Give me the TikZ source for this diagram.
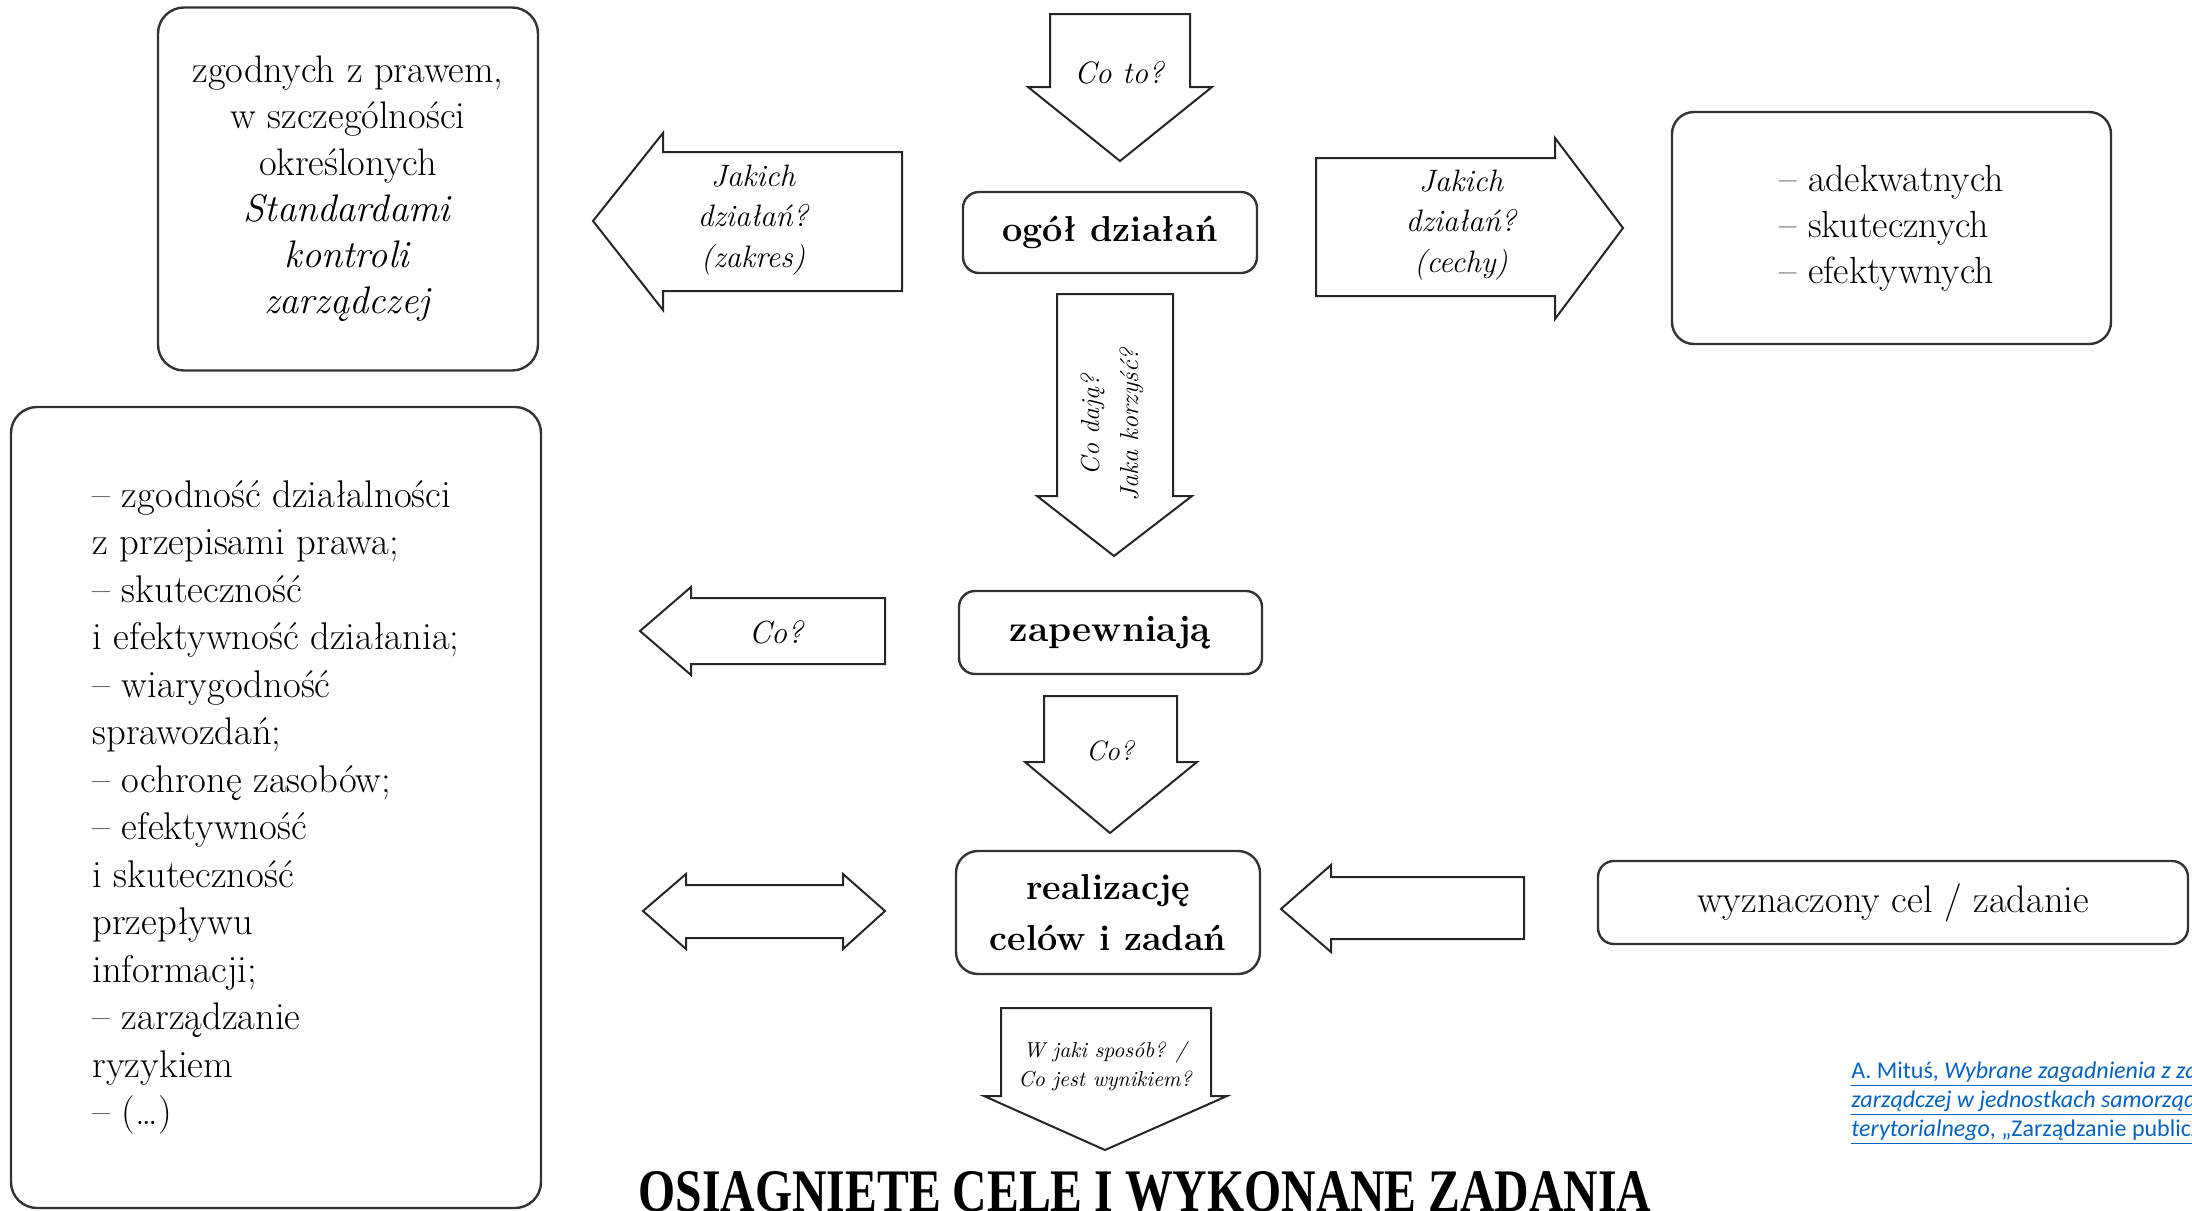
\documentclass[tikz,border=0pt]{standalone}
\usepackage{fontspec}
\newfontfamily\citefont{Carlito}
\newfontfamily\titlefont{Liberation Serif}
\definecolor{linkblue}{HTML}{0563C1}
\tikzset{
    box/.style={draw=black!80, line width=1.2pt, rounded corners=8pt, align=center}, % rounded frames
    barrow/.style={draw=black!85, line width=1pt, fill=white}, % block arrows
    ask/.style={font=\itshape\fontsize{15.5pt}{20.25pt}\selectfont, align=center, inner sep=0pt}, % questions in the arrows
}

\begin{document}
\begin{tikzpicture}[x=0.5pt, y=-0.5pt]
\useasboundingbox (0,0) rectangle (2192,1211);

% frames
\node[box, rounded corners=13pt, minimum width=190pt, minimum height=181.5pt,
      font=\fontsize{19.2pt}{23.1pt}\selectfont] (rules) at (348,189)
     {zgodnych z prawem,\\ w szczególności\\ określonych\\
      \textit{Standardami}\\ \textit{kontroli}\\ \textit{zarządczej}};
\node[box, rounded corners=11pt, minimum width=219.5pt, minimum height=116pt, align=left,
      font=\fontsize{18.9pt}{23pt}\selectfont] (traits) at (1891.5,228)
     {– adekwatnych\\ – skutecznych\\ – efektywnych};
\node[box, minimum width=147pt, minimum height=40.5pt,
      font=\bfseries\fontsize{18pt}{22pt}\selectfont] (all) at (1110,232.5) {ogół działań};
\node[box, minimum width=151.5pt, minimum height=41.5pt,
      font=\bfseries\fontsize{18.5pt}{22pt}\selectfont] (ensure) at (1110.5,632.5) {zapewniają};
\node[box, rounded corners=11pt, minimum width=152pt, minimum height=61.5pt,
      font=\bfseries\fontsize{18pt}{25.5pt}\selectfont] (tasks) at (1108,912.5) {realizację\\ celów i zadań};
\node[box, minimum width=295pt, minimum height=41.5pt,
      font=\fontsize{19.2pt}{22pt}\selectfont] (goal) at (1893,902.5) {wyznaczony cel / zadanie};
\node[box, rounded corners=13pt, minimum width=265pt, minimum height=400.5pt, align=left,
      font=\fontsize{19.3pt}{23.75pt}\selectfont] (effects) at (276,807.5)
     {– zgodność działalności\\ z przepisami prawa;\\ – skuteczność\\
      i efektywność działania;\\ – wiarygodność\\ sprawozdań;\\ – ochronę zasobów;\\
      – efektywność\\ i skuteczność\\ przepływu\\ informacji;\\ – zarządzanie\\
      ryzykiem\\ – (…)};

% block arrows
\draw[barrow] (1050,14) -- (1190,14) -- (1190,87) -- (1212,87) -- (1120,161)
    -- (1028,87) -- (1050,87) -- cycle;
\draw[barrow] (902,152) -- (902,291) -- (663,291) -- (663,310) -- (593,221)
    -- (663,133) -- (663,152) -- cycle;
\draw[barrow] (1316,158) -- (1555,158) -- (1555,138) -- (1623,228) -- (1555,319)
    -- (1555,296) -- (1316,296) -- cycle;
\draw[barrow] (1057,294) -- (1173,294) -- (1173,496) -- (1192,496) -- (1114,556)
    -- (1037,496) -- (1057,496) -- cycle;
\draw[barrow] (885,598) -- (885,664) -- (691,664) -- (691,675) -- (640,631)
    -- (691,587) -- (691,598) -- cycle;
\draw[barrow] (1044,696) -- (1177,696) -- (1177,762) -- (1197,762) -- (1110,833)
    -- (1025,762) -- (1044,762) -- cycle;
\draw[barrow] (643,911) -- (686,874) -- (686,885) -- (843,885) -- (843,874) -- (885,911)
    -- (843,949) -- (843,938) -- (686,938) -- (686,949) -- cycle;
\draw[barrow] (1524,877) -- (1524,939) -- (1331,939) -- (1331,952) -- (1281,909)
    -- (1331,865) -- (1331,877) -- cycle;
\draw[barrow] (1001,1008) -- (1211,1008) -- (1211,1096) -- (1227,1096) -- (1105,1150)
    -- (984,1096) -- (1001,1096) -- cycle;

% questions
\node[ask] (what) at (1119,73) {Co to?};
\node[ask] (scope) at (753,220) {Jakich\\ działań?\\ (zakres)};
\node[ask] (kind) at (1461,225) {Jakich\\ działań?\\ (cechy)};
\node[ask, rotate=90, font=\itshape\fontsize{13pt}{19.5pt}\selectfont] (benefit) at (1112,425)
     {Co dają?\\ Jaka korzyść?};
\node[ask, font=\itshape\fontsize{16pt}{20pt}\selectfont] (whatA) at (776,632) {Co?};
\node[ask, font=\itshape\fontsize{14pt}{20pt}\selectfont] (whatB) at (1110,751) {Co?};
\node[ask, font=\itshape\fontsize{10.8pt}{14.5pt}\selectfont] (how) at (1105,1066)
     {W jaki sposób? /\\ Co jest wynikiem?};

% result and source
\node[anchor=base, inner sep=0pt, font=\titlefont\bfseries\fontsize{30.2pt}{36pt}\selectfont]
     (result) at (1145,1211) {\scalebox{0.79}[1]{OSIĄGNIĘTE CELE I WYKONANE ZADANIA}};
\begin{scope}
\clip (0,0) rectangle (2192,1211);
\node[anchor=north west, inner sep=0pt, align=left, text=linkblue,
      font=\citefont\fontsize{12pt}{14.5pt}\selectfont] (source) at (1851,1061)
     {\underline{A. Mituś, \textit{Wybrane zagadnienia z zakresu kontroli}}\\
      \underline{\textit{zarządczej w jednostkach samorządu}}\\
      \underline{\textit{terytorialnego}, „Zarządzanie publiczne”}};
\end{scope}
\end{tikzpicture}
\end{document}
